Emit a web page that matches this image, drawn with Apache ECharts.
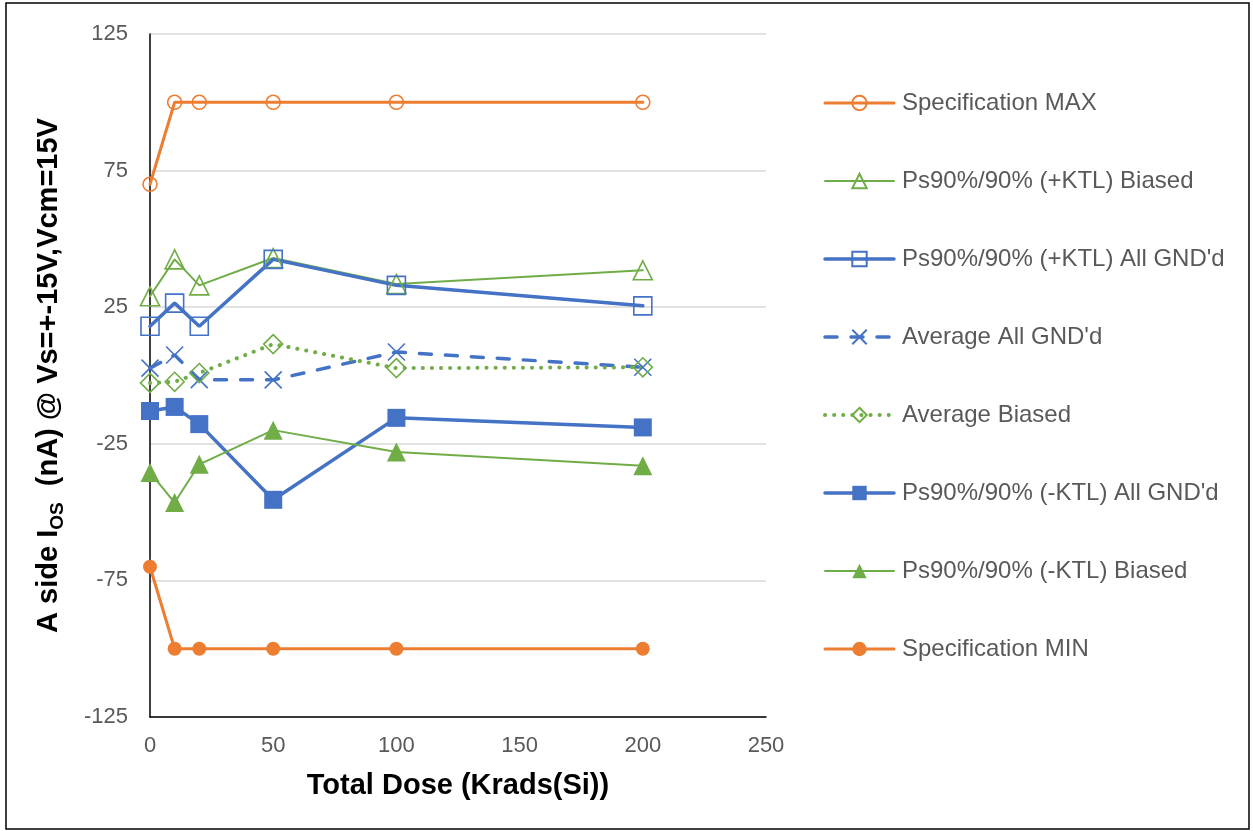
<!DOCTYPE html>
<html>
<head>
<meta charset="utf-8">
<script src="https://cdn.jsdelivr.net/npm/echarts@6/dist/echarts.min.js"></script>
<style>
html, body { margin: 0; padding: 0; background: #fff; }
#main { width: 1253px; height: 831px; }
</style>
</head>
<body>
<div id="main"></div>
<script>
var dose = [0, 10, 20, 50, 100, 200];

var specMax = [70, 100, 100, 100, 100, 100];
var plusBiased = [29, 42.5, 33, 43, 33.5, 38.5];
var plusGnd = [18, 26.5, 18, 42.5, 33, 25.5];
var avgGnd = [2.7, 7.5, -1.5, -1.6, 8.6, 3];
var avgBiased = [-2.7, -2.3, 0.9, 11.5, 2.7, 3];
var minusGnd = [-13, -11.5, -17.8, -45.5, -15.5, -19];
var minusBiased = [-35.5, -46.5, -32.5, -20, -28, -33];
var specMin = [-70, -100, -100, -100, -100, -100];

var yTicks = [-125, -75, -25, 25, 75, 125];

var orange = '#ED7D31', green = '#70AD47', blue = '#4472C4';
var crossPath = 'path://M0,0 L10,10 M10,0 L0,10';
var font = 'Liberation Sans, Arial, sans-serif';

function pts(vals) {		// x,y pairs
    var res = [];
    for (var i = 0; i < dose.length; i++) {
        res.push([dose[i], vals[i]]);
    }
    return res;
}

var legendItems = [];

function line(name, vals, color, width, type, symbol, size, filled) {
    legendItems.push({
        name: name,
        lineStyle: { width: width }
    });
    return {
        name: name,
        type: 'line',
        data: pts(vals),
        symbol: symbol,
        symbolSize: size,
        showAllSymbol: true,
        lineStyle: { color: color, width: width, type: type, cap: 'round' },
        itemStyle: {
            color: filled ? color : 'transparent',
            borderColor: color,
            borderWidth: filled ? 0 : 1.6
        },
        emphasis: { disabled: true },
        z: 3
    };
}

var series = [
    line('Specification MAX', specMax, orange, 3, 'solid', 'circle', 14, false),
    line('Ps90%/90% (+KTL) Biased', plusBiased, green, 2, 'solid', 'triangle', 19, false),
    line('Ps90%/90% (+KTL) All GND\'d', plusGnd, blue, 3.5, 'solid', 'rect', 18, false),
    line('Average All GND\'d', avgGnd, blue, 3.5, [12, 14], crossPath, 17, false),
    line('Average Biased', avgBiased, green, 4, [0.1, 9], 'diamond', 19, false),
    line('Ps90%/90% (-KTL) All GND\'d', minusGnd, blue, 3.5, 'solid', 'rect', 18, true),
    line('Ps90%/90% (-KTL) Biased', minusBiased, green, 2, 'solid', 'triangle', 19, true),
    line('Specification MIN', specMin, orange, 3, 'solid', 'circle', 14, true)
];

var myChart = echarts.init(document.getElementById('main'));
var option = {
    animation: false,
    backgroundColor: '#fff',
    textStyle: { fontFamily: font },
    grid: { left: 150, right: 487, top: 34, bottom: 114 },
    graphic: [{
        type: 'rect',
        shape: { x: 6, y: 3, width: 1243, height: 826 },
        style: { fill: 'none', stroke: '#000', lineWidth: 1.5 },
        silent: true
    }],
    legend: {
        orient: 'vertical',
        left: 823,
        top: 91,
        padding: 0,
        itemWidth: 69,
        itemHeight: 18,
        itemGap: 54,
        data: legendItems,
        textStyle: { fontSize: 24, color: '#595959', lineHeight: 24, padding: [0, 0, 0, 3] }
    },
    xAxis: {
        type: 'value',
        min: 0,
        max: 250,
        interval: 50,
        name: 'Total Dose (Krads(Si))',
        nameLocation: 'middle',
        nameGap: 54,
        nameTextStyle: { fontSize: 29, fontWeight: 'bold', color: '#000' },
        axisLine: { show: true, onZero: false, lineStyle: { color: '#000', width: 1.5 } },
        axisTick: { show: false },
        axisLabel: { fontSize: 22, color: '#595959', margin: 18 },
        splitLine: { show: false }
    },
    yAxis: {
        type: 'value',
        min: -125,
        max: 125,
        interval: 50,
        name: '{a|A side I}{s|OS}{a|  (nA) @ Vs=+-15V,Vcm=15V}',
        nameLocation: 'middle',
        nameGap: 84,
        nameTextStyle: {
            rich: {
                a: { fontSize: 29, fontWeight: 'bold', color: '#000', lineHeight: 34, fontFamily: font },
                s: { fontSize: 19, fontWeight: 'bold', color: '#000', lineHeight: 19,
                     verticalAlign: 'top', padding: [16, 0, 0, 0], fontFamily: font }
            }
        },
        axisLine: { show: true, onZero: false, lineStyle: { color: '#000', width: 1.5 } },
        axisTick: { show: false },
        axisLabel: {
            fontSize: 22, color: '#595959', margin: 22,
            customValues: yTicks
        },
        splitLine: { show: true, lineStyle: { color: '#D9D9D9', width: 1.5 } }
    },
    series: series
};
myChart.setOption(option, true);
</script>
</body>
</html>
